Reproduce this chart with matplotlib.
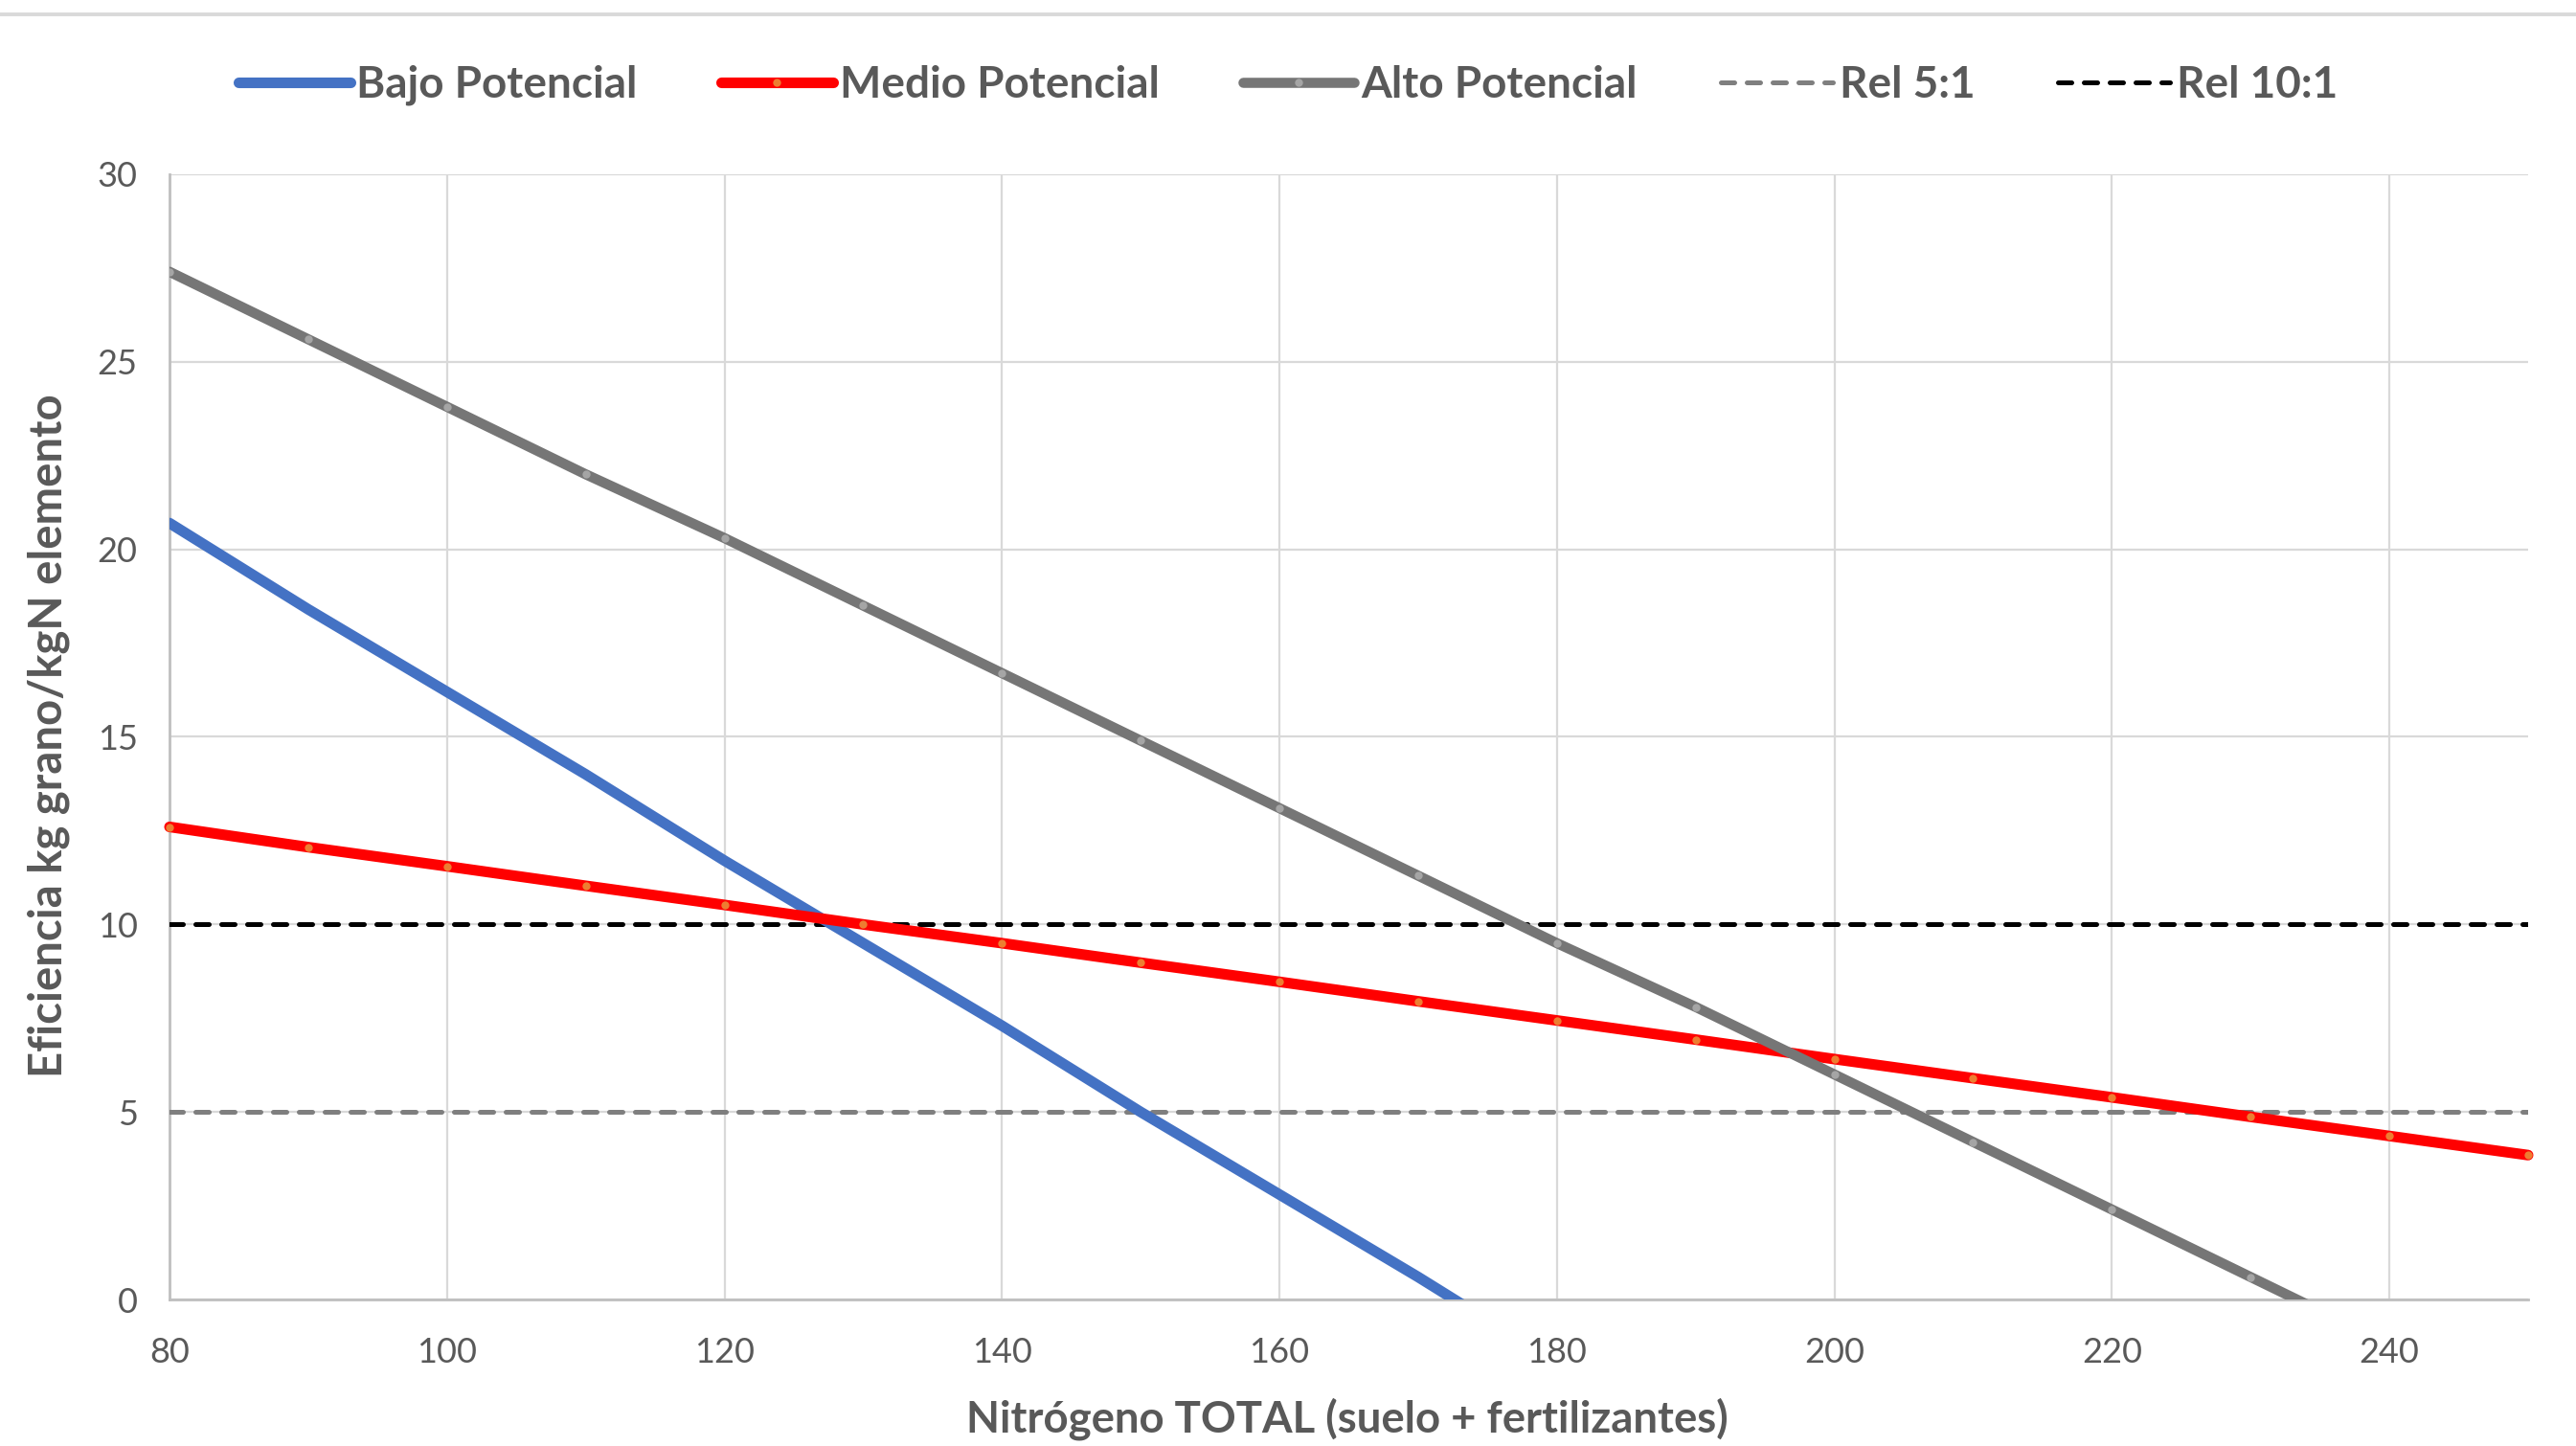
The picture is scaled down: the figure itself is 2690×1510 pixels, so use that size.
import matplotlib.pyplot as plt
from matplotlib.lines import Line2D

plt.rcParams['font.family'] = ['Lato', 'DejaVu Sans']

# datos
nitrogeno = [80, 90, 100, 110, 120, 130, 140, 150, 160, 170, 180, 190, 200, 210, 220, 230, 240, 250]
bajo = [20.7, 18.4, 16.2, 14.0, 11.7, 9.5, 7.3, 5.0, 2.8, 0.6, -1.7]
medio = [12.6, 12.06, 11.55, 11.03, 10.52, 10.0, 9.5, 8.98, 8.47, 7.95, 7.44, 6.93, 6.41, 5.9, 5.39, 4.87, 4.36, 3.85]
alto = [27.4, 25.6, 23.8, 22.0, 20.3, 18.5, 16.7, 14.9, 13.1, 11.3, 9.5, 7.8, 6.0, 4.2, 2.4, 0.6, -1.2]
rel_5 = [5] * len(nitrogeno)
rel_10 = [10] * len(nitrogeno)

x_ticks = [80, 100, 120, 140, 160, 180, 200, 220, 240]
y_ticks = [0, 5, 10, 15, 20, 25, 30]

txt = '#595959'

fig = plt.figure(figsize=(13.45, 7.55), dpi=200)
ax = fig.add_axes([0.0658, 0.1013, 0.9156, 0.7782])

# lineas de referencia
ax.plot(nitrogeno, rel_5, color='#7F7F7F', lw=1.8, dashes=(2.8, 2.6),
        dash_capstyle='round', label='Rel 5:1', zorder=3)
ax.plot(nitrogeno, rel_10, color='black', lw=1.8, dashes=(2.8, 2.6),
        dash_capstyle='round', label='Rel 10:1', zorder=3)

ax.plot(nitrogeno[:len(bajo)], bajo, color='#4472C4', lw=4.0, solid_capstyle='round',
        marker='o', ms=3.0, mfc='#4472C4', mec='none', label='Bajo Potencial', zorder=4)
ax.plot(nitrogeno, medio, color='#FF0000', lw=4.0, solid_capstyle='round',
        marker='o', ms=3.0, mfc='#ED7D31', mec='none', label='Medio Potencial',
        zorder=4, clip_on=False)
ax.plot(nitrogeno[:len(alto)], alto, color='#767676', lw=3.8, solid_capstyle='round',
        marker='o', ms=3.0, mfc='#A5A5A5', mec='none', label='Alto Potencial', zorder=4)

ax.set_xlim(80, 250)
ax.set_ylim(0, 30)
ax.set_xticks(x_ticks)
ax.set_yticks(y_ticks)
ax.grid(True, color='#D9D9D9', lw=0.8, zorder=0)
ax.set_axisbelow(True)
for s in ['top', 'right']:
    ax.spines[s].set_visible(False)
for s in ['left', 'bottom']:
    ax.spines[s].set_color('#BFBFBF')
    ax.spines[s].set_linewidth(1.0)
ax.tick_params(length=0, labelsize=13, labelcolor=txt)
ax.tick_params(axis='x', pad=14)
ax.tick_params(axis='y', pad=12)

fig.text(0.019, 0.491, 'Eficiencia kg grano/kgN elemento', rotation=90, ha='center', va='center',
         fontsize=17, fontweight='bold', color=txt)
fig.text(0.523, 0.0185, 'Nitrógeno TOTAL (suelo + fertilizantes)', ha='center', va='center',
         fontsize=16.4, fontweight='bold', color=txt)

h, l = ax.get_legend_handles_labels()
order = [2, 3, 4, 0, 1]
leg = fig.legend([h[i] for i in order], [l[i] for i in order], loc='center',
                 bbox_to_anchor=(0.5, 0.941), ncol=5, frameon=False, fontsize=16.5,
                 handlelength=2.55, handletextpad=0.15, columnspacing=1.9, numpoints=1)
for t in leg.get_texts():
    t.set_color(txt)
    t.set_fontweight('bold')

# borde superior
fig.add_artist(Line2D([0, 1], [0.99, 0.99], color='#D9D9D9', lw=1.4, transform=fig.transFigure))

fig.savefig('out.png', dpi=200)
